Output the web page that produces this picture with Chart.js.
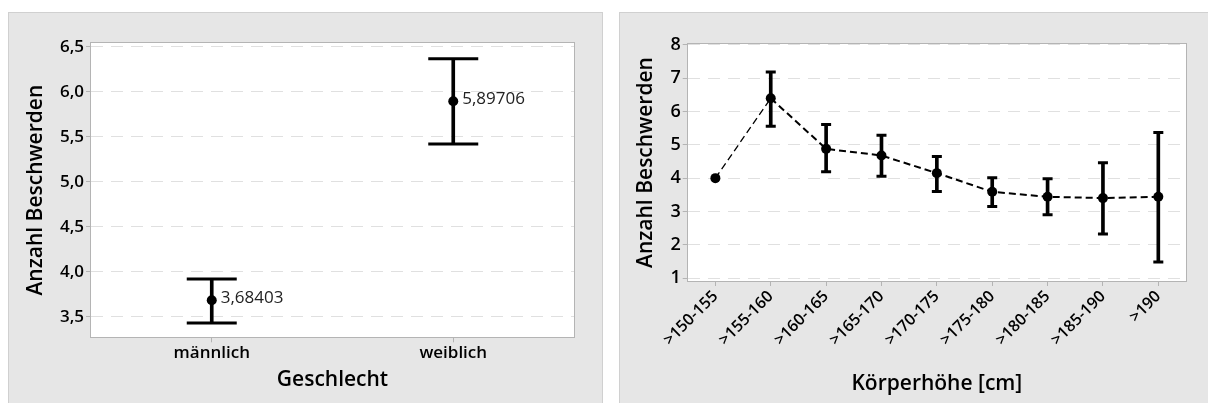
<!DOCTYPE html>
<html><head><meta charset="utf-8">
<script src="https://cdn.jsdelivr.net/npm/chart.js@4.4.1/dist/chart.umd.min.js"></script>
<style>
html,body{margin:0;padding:0;background:#fff;width:1208px;height:403px;overflow:hidden;position:relative;}
.panel{position:absolute;background:#e6e6e6;border:1px solid #d0d0d0;box-sizing:border-box;}
#p1{left:8px;top:12px;width:595px;height:400px;}
#p2{left:619px;top:12px;width:600px;height:400px;}
canvas{position:absolute;}
#c1{left:8px;top:12px;}
#c2{left:619px;top:12px;}
</style></head>
<body>
<div class="panel" id="p1"></div>
<div class="panel" id="p2"></div>
<canvas id="c1" width="595" height="391"></canvas>
<canvas id="c2" width="589" height="391"></canvas>
<script>
// ---- Data: left chart (Geschlecht) ----
const genderCategories = ['männlich', 'weiblich'];
const genderMeans = [3.68403, 5.89706];
const genderLower = [3.43, 5.42];
const genderUpper = [3.92, 6.37];
const genderMeanLabels = ['3,68403', '5,89706'];
const genderTicks = [3.5, 4.0, 4.5, 5.0, 5.5, 6.0, 6.5];

// ---- Data: right chart (Körperhöhe) ----
const heightCategories = ['>150-155', '>155-160', '>160-165', '>165-170', '>170-175', '>175-180', '>180-185', '>185-190', '>190'];
const heightMeans = [4.00, 6.40, 4.88, 4.68, 4.15, 3.59, 3.44, 3.40, 3.44];
const heightLower = [null, 5.56, 4.19, 4.06, 3.60, 3.15, 2.90, 2.32, 1.48];
const heightUpper = [null, 7.19, 5.61, 5.29, 4.65, 4.01, 3.98, 4.46, 5.37];
const heightTicks = [1, 2, 3, 4, 5, 6, 7, 8];

const FONT = "'Open Sans', 'Noto Sans', sans-serif";
Chart.defaults.font.family = FONT;
Chart.defaults.font.weight = '600';
Chart.defaults.color = '#000';

const frame = {
  id: 'frame',
  beforeDraw(chart) {
    const {ctx, chartArea: a} = chart;
    ctx.save();
    ctx.fillStyle = '#ffffff';
    ctx.fillRect(a.left, a.top, a.right - a.left, a.bottom - a.top);
    ctx.restore();
  },
  afterDraw(chart) {
    const {ctx, chartArea: a} = chart;
    ctx.save();
    ctx.strokeStyle = '#b4b4b4';
    ctx.lineWidth = 1;
    ctx.strokeRect(Math.round(a.left) - 0.5, Math.round(a.top) - 0.5, Math.round(a.right - a.left) + 1, Math.round(a.bottom - a.top) + 1);
    ctx.restore();
  }
};

const meanLabels = {
  id: 'meanLabels',
  afterDatasetsDraw(chart, args, opts) {
    if (!opts.labels) return;
    const meta = chart.getDatasetMeta(opts.datasetIndex);
    const ctx = chart.ctx;
    ctx.save();
    ctx.fillStyle = '#222222';
    ctx.font = "17px " + FONT;
    ctx.textBaseline = 'middle';
    ctx.textAlign = 'left';
    meta.data.forEach((pt, i) => {
      ctx.fillText(opts.labels[i], pt.x + 9, pt.y - 2);
    });
    ctx.restore();
  }
};

function stems(lower, upper) {
  return lower.map((l, i) => (l == null ? null : [l, upper[i]]));
}

function makeChart(id, cfg) {
  return new Chart(document.getElementById(id), {
    type: 'bar',
    data: {
      labels: cfg.labels,
      datasets: [
        { type: 'line', data: cfg.means, showLine: cfg.showLine, borderColor: '#000', borderWidth: 2,
          borderDash: [7, 4], segment: { borderWidth: c => (c.p0DataIndex === 0 ? 1.3 : 2) },
          pointRadius: 5, pointBackgroundColor: '#000', pointBorderColor: '#000', pointBorderWidth: 0, order: 0 },
        { type: 'line', data: cfg.upper, showLine: false, pointStyle: 'line', pointRadius: cfg.cap,
          pointBorderColor: '#000', pointBorderWidth: 3, borderColor: '#000', order: 1 },
        { type: 'line', data: cfg.lower, showLine: false, pointStyle: 'line', pointRadius: cfg.cap,
          pointBorderColor: '#000', pointBorderWidth: 3, borderColor: '#000', order: 1 },
        { type: 'bar', data: stems(cfg.lower, cfg.upper), backgroundColor: '#000', barThickness: 3, order: 2 }
      ]
    },
    options: {
      responsive: false,
      animation: false,
      events: [],
      layout: { padding: cfg.padding },
      plugins: { legend: { display: false }, tooltip: { enabled: false },
        meanLabels: { labels: cfg.meanLabels, datasetIndex: 0 } },
      scales: {
        x: {
          offset: true,
          grid: { display: true, drawOnChartArea: false, drawTicks: true, tickLength: 5, tickColor: '#b4b4b4', offset: false },
          border: { display: false },
          ticks: { font: { size: cfg.xTickSize, weight: '600' }, color: '#000', padding: 1, autoSkip: false,
            maxRotation: cfg.rot, minRotation: cfg.rot },
          title: { display: true, text: cfg.xTitle, font: { size: 21, weight: '600' }, color: '#000', padding: 4 },
          afterFit(s) { s.height = cfg.xHeight; }
        },
        y: {
          min: cfg.yMin, max: cfg.yMax,
          afterBuildTicks(s) { s.ticks = cfg.yTicks.map(v => ({ value: v })); },
          grid: { color: '#e0e0e0', lineWidth: 1, drawTicks: true, tickLength: 5, tickColor: '#b4b4b4' },
          border: { display: false, dash: [12, 8] },
          ticks: { font: { size: cfg.yTickSize, weight: '600' }, color: '#000', padding: 2, callback: cfg.fmt },
          title: { display: true, text: 'Anzahl Beschwerden', font: { size: 21, weight: '600' }, color: '#000', padding: 4 },
          afterFit(s) { s.width = cfg.yWidth; }
        }
      }
    },
    plugins: [frame, meanLabels]
  });
}

makeChart('c1', {
  labels: genderCategories, means: genderMeans, lower: genderLower, upper: genderUpper,
  meanLabels: genderMeanLabels, showLine: false, cap: 25,
  yMin: 3.271, yMax: 6.544, yTicks: genderTicks,
  fmt: v => Number(v).toFixed(1).replace('.', ','),
  padding: { left: 11, top: 31, right: 29, bottom: 6 },
  yWidth: 72, xHeight: 59.7, xTitle: 'Geschlecht', xTickSize: 17, yTickSize: 17, rot: 0
});

makeChart('c2', {
  labels: heightCategories, means: heightMeans, lower: heightLower, upper: heightUpper,
  meanLabels: null, showLine: true, cap: 5,
  yMin: 0.91, yMax: 8.03, yTicks: heightTicks,
  fmt: v => String(v),
  padding: { left: 10, top: 32, right: 22, bottom: 2 },
  yWidth: 58.7, xHeight: 120, xTitle: 'Körperhöhe [cm]', xTickSize: 16, yTickSize: 18, rot: 45
});
</script>
</body></html>
